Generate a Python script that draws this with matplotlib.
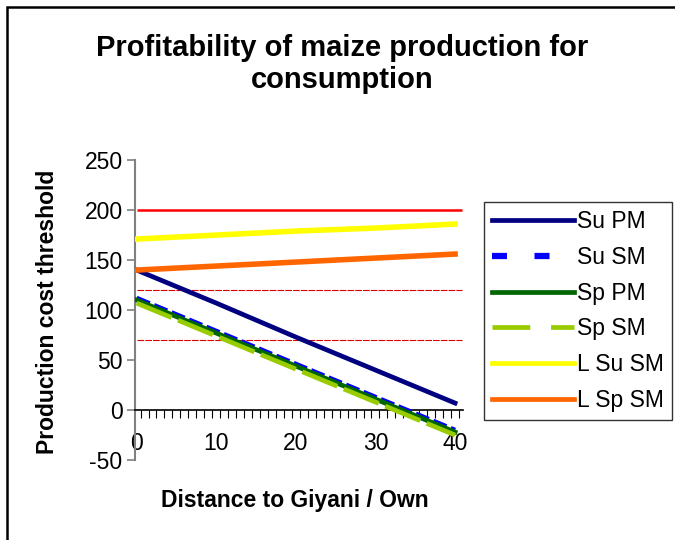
import matplotlib

matplotlib.use("Agg")
import matplotlib.pyplot as plt
from matplotlib.lines import Line2D
from matplotlib.patches import Rectangle
from matplotlib.ticker import FixedLocator

plt.rcParams["font.family"] = ["Liberation Sans", "DejaVu Sans"]
plt.rcParams["axes.unicode_minus"] = False

# distance to Giyani / own (km)
distance = [0, 10, 20, 30, 40]
su_pm = [140, 107, 73, 40, 7]
su_sm = [112, 79, 46, 13, -20]
sp_pm = [110, 77, 44, 11, -22]
sp_sm = [107, 74, 41, 8, -25]
l_su_sm = [171, 175, 179, 182, 186]
l_sp_sm = [140, 144, 148, 152, 156]

# horizontal cost thresholds
threshold_main = 200
threshold_minor = [120, 70]

y_ticks = [-50, 0, 50, 100, 150, 200, 250]
x_labels = [0, 10, 20, 30, 40]
names = ["Su PM", "Su SM", "Sp PM", "Sp SM", "L Su SM", "L Sp SM"]

fig = plt.figure(figsize=(6.75, 5.4), dpi=100)
ax = fig.add_axes([0.2, 0.148, 0.486, 0.5556])

ax.hlines(threshold_main, 0, 40.9, color="#ff0000", linewidth=1.8, zorder=2)
ax.hlines(threshold_minor, 0, 40.9, color="#dd0000", linewidth=0.8,
          linestyles=(0, (6, 1)), zorder=2)

# drawn in the order of the original series
ax.plot(distance, su_pm, color="#000080", linewidth=3.4, zorder=3)
ax.plot(distance, su_sm, color="#0000ff", linewidth=3.4, dashes=(3, 1), zorder=4)
ax.plot(distance, sp_pm, color="#006600", linewidth=3.4, zorder=5)
ax.plot(distance, sp_sm, color="#99cc00", linewidth=3.4, dashes=(8, 1.5), zorder=6)
ax.plot(distance, l_su_sm, color="#ffff00", linewidth=4, zorder=7)
ax.plot(distance, l_sp_sm, color="#ff6600", linewidth=4, zorder=8)

handles = [
    Line2D([], [], color="#000080", linewidth=3.4),
    Line2D([], [], color="#0000ff", linewidth=4.5, dashes=(2.4, 4.4)),
    Line2D([], [], color="#006600", linewidth=3.4),
    Line2D([], [], color="#99cc00", linewidth=3.4, dashes=(8, 4.4)),
    Line2D([], [], color="#ffff00", linewidth=3.4),
    Line2D([], [], color="#ff6600", linewidth=3.4),
]
leg = fig.legend(handles, names, loc="upper left", bbox_to_anchor=(0.717, 0.626),
                 frameon=True, fancybox=False, edgecolor="black", fontsize=16.5,
                 handlelength=3.6, handletextpad=0.1, labelspacing=0.56,
                 borderpad=0.35, borderaxespad=0)
leg.get_frame().set_linewidth(1.0)

ax.set_xlim(-0.2, 41.0)
ax.set_ylim(-50, 250)
ax.set_yticks(y_ticks)
ax.tick_params(axis="y", labelsize=16.5, direction="out", length=6, width=1.2,
               color="#808080", pad=3)
ax.set_xticks(x_labels)
ax.tick_params(axis="x", which="major", length=0, labelsize=16.5, pad=16)
ax.xaxis.set_minor_locator(FixedLocator([i + 0.5 for i in range(-1, 41)]))
ax.tick_params(axis="x", which="minor", direction="out", length=6, width=0.8,
               color="black")

for side in ["top", "right"]:
    ax.spines[side].set_visible(False)
ax.spines["left"].set_color("#808080")
ax.spines["left"].set_linewidth(1.5)
ax.spines["bottom"].set_position(("data", 0))
ax.spines["bottom"].set_color("black")
ax.spines["bottom"].set_linewidth(1.2)

fig.text(0.07, 0.422, "Production cost threshold", fontsize=16.5, fontweight="bold",
         rotation=90, ha="center", va="center")
fig.text(0.437, 0.074, "Distance to Giyani / Own", fontsize=16.5, fontweight="bold",
         ha="center", va="center")
fig.text(0.507, 0.881, "Profitability of maize production for\nconsumption",
         fontsize=21, fontweight="bold", ha="center", va="center", linespacing=1.2)

fig.patches.append(Rectangle((0.0104, -0.1), 1.2, 1.087, transform=fig.transFigure,
                             fill=False, edgecolor="black", linewidth=1.8))

fig.savefig("out.png")
